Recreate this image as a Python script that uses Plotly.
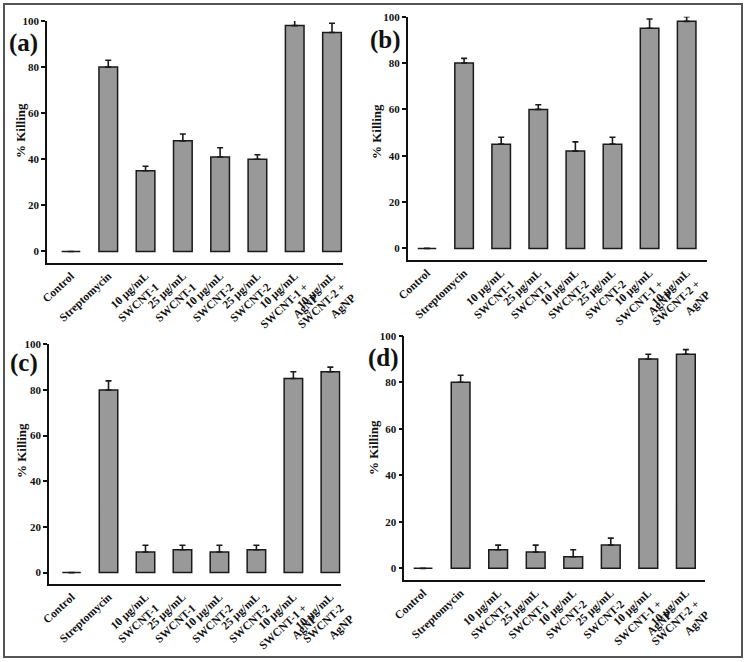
import plotly.graph_objects as go

W, H = 747, 662

categories = ["Control", "Streptomycin", "10 µg/mL<br>SWCNT-1", "25 µg/mL<br>SWCNT-1",
              "10 µg/mL<br>SWCNT-2", "25 µg/mL<br>SWCNT-2",
              "10 µg/mL<br>SWCNT-1 +<br>AgNP", "10 µg/mL<br>SWCNT-2 +<br>AgNP"]
categories_c = categories[:7] + ["10 µg/mL<br>SWCNT-2<br>AgNP"]

vals_a = [0, 80, 35, 48, 41, 40, 98, 95]
err_a = [0, 3, 2, 3, 4, 2, 3, 4]
vals_b = [0, 80, 45, 60, 42, 45, 95, 98]
err_b = [0, 2, 3, 2, 4, 3, 4, 2]
vals_c = [0, 80, 9, 10, 9, 10, 85, 88]
err_c = [0, 4, 3, 2, 3, 2, 3, 2]
vals_d = [0, 80, 8, 7, 5, 10, 90, 92]
err_d = [0, 3, 2, 3, 3, 3, 2, 2]

panel_labels = ["(a)", "(b)", "(c)", "(d)"]
y_ticks = [0, 20, 40, 60, 80, 100]

# layout (pixel geometry): x0, x1, ytop(100), ybottom(axis)
geo = [
    (47, 343, 21, 263, (-0.643, 7.295)),
    (407.7, 706.7, 16.7, 260, (-0.52, 7.54)),
    (49, 340.7, 344.3, 584, (-0.61, 7.28)),
    (404.3, 705, 335.7, 580, (-0.50, 7.51)),
]
data = [(vals_a, err_a, categories), (vals_b, err_b, categories),
        (vals_c, err_c, categories_c), (vals_d, err_d, categories)]

FONT = "Liberation Serif"
fig = go.Figure()
for i, ((vals, errs, cats), (x0, x1, yt, yb, xr)) in enumerate(zip(data, geo)):
    n = i + 1
    xa = "x" if n == 1 else f"x{n}"
    ya = "y" if n == 1 else f"y{n}"
    fig.add_trace(go.Bar(
        x=list(range(len(vals))), y=vals, width=0.5,
        marker=dict(color="#999999", line=dict(color="#1a1a1a", width=1.5)),
        error_y=dict(type="data", symmetric=False, array=errs, arrayminus=[0] * len(errs),
                     color="#1a1a1a", thickness=1.6, width=3),
        xaxis=xa, yaxis=ya, showlegend=False, hoverinfo="skip"))
    xkey = "xaxis" if n == 1 else f"xaxis{n}"
    ykey = "yaxis" if n == 1 else f"yaxis{n}"
    fig.layout[xkey] = dict(
        domain=[x0 / W, x1 / W], anchor=ya, range=list(xr),
        tickmode="array", tickvals=list(range(len(cats))), ticktext=cats,
        tickangle=-43, ticks="", showline=True, linecolor="#111", linewidth=1.6,
        showgrid=False, zeroline=False, automargin=False,
        tickfont=dict(family=FONT, size=11.5, color="#111", weight="bold"))
    fig.layout[ykey] = dict(
        domain=[1 - yb / H, 1 - yt / H], anchor=xa, range=[-5, 100],
        tickvals=y_ticks, ticks="outside", ticklen=4, tickwidth=1.5, tickcolor="#111",
        showline=True, linecolor="#111", linewidth=1.6, showgrid=False, zeroline=False,
        automargin=False,
        tickfont=dict(family=FONT, size=11, color="#111", weight="bold"))

# y titles
ytitle_pos = [(21, 131), (377, 131), (21, 451), (373, 448)]
for (px, py) in ytitle_pos:
    fig.add_annotation(text="% Killing", x=px / W, y=1 - py / H, xref="paper", yref="paper",
                       xanchor="center", yanchor="middle",
                       showarrow=False, textangle=-90,
                       font=dict(family=FONT, size=13, color="#111", weight="bold"))
# panel labels
lab_pos = [(24, 43), (385, 40), (24, 363), (383, 358)]
for lab, (px, py) in zip(panel_labels, lab_pos):
    fig.add_annotation(text=lab, x=px / W, y=1 - py / H, xref="paper", yref="paper",
                       xanchor="center", yanchor="middle",
                       showarrow=False,
                       font=dict(family=FONT, size=25, color="#111", weight="bold"))

# outer frame
fig.add_shape(type="rect", xref="paper", yref="paper",
              x0=4 / W, x1=742 / W, y0=1 - 657 / H, y1=1 - 4 / H,
              line=dict(color="#555", width=2))

fig.update_layout(width=W, height=H, margin=dict(l=0, r=0, t=0, b=0),
                  paper_bgcolor="white", plot_bgcolor="white")
fig.write_html("out.html", config={"displayModeBar": False},
               post_script="document.body.style.margin='0';")
